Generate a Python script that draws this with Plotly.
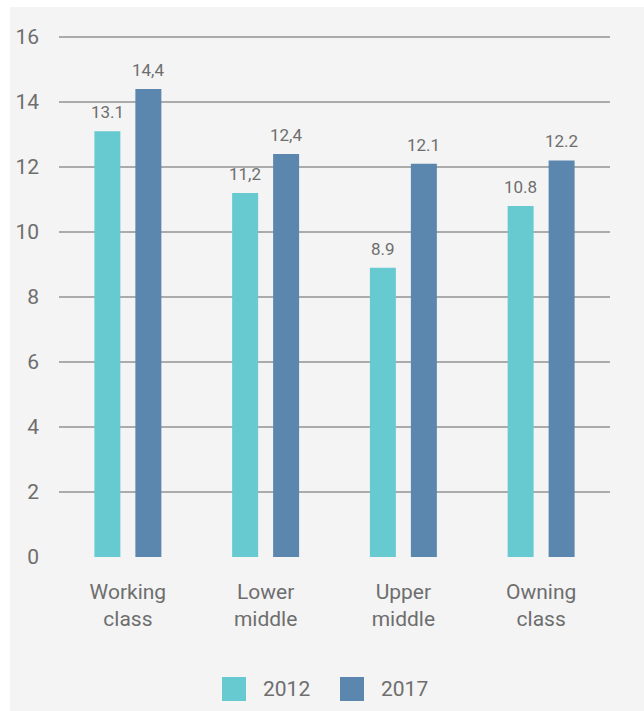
import plotly.graph_objects as go

# Categories and series
categories = ["Working<br>class", "Lower<br>middle", "Upper<br>middle", "Owning<br>class"]
series_names = ["2012", "2017"]
values_2012 = [13.1, 11.2, 8.9, 10.8]
values_2017 = [14.4, 12.4, 12.1, 12.2]
labels_2012 = ["13.1", "11,2", "8.9", "10.8"]
labels_2017 = ["14,4", "12,4", "12.1", "12.2"]
y_ticks = [0, 2, 4, 6, 8, 10, 12, 14, 16]

COLORS = ["#67cad1", "#5b86ad"]
TEXT = "#6e6e6e"
GRID = "#ababab"
PANEL = "#f4f4f4"
FONT = "Roboto, sans-serif"

W, H = 644, 711
Y_TOP = 16.06  # a little headroom so the top gridline is drawn
ML, MR, MB = 59, 34, 154
MT = 37 - round((Y_TOP - 16) * 32.5)
PW, PH = W - ML - MR, H - MT - MB


def px_x(px):
    return (px - ML) / PW


def px_y(py):
    return (H - MB - py) / PH


fig = go.Figure()
series = [(values_2012, labels_2012), (values_2017, labels_2017)]
for i, (vals, labs) in enumerate(series):
    fig.add_trace(go.Bar(
        x=categories, y=vals, name=series_names[i],
        marker=dict(color=COLORS[i], line=dict(width=0)),
        showlegend=False, hoverinfo="skip",
    ))

# value labels above the bars
slot = PW / len(categories) * (1 - 0.405) / 2
annotations = []
for i, (vals, labs) in enumerate(series):
    shift = (i - 0.5) * slot
    for c, v, t in zip(categories, vals, labs):
        annotations.append(dict(
            x=c, y=v, xref="x", yref="y", text=t, showarrow=False,
            xanchor="center", yanchor="bottom", xshift=shift, yshift=7,
            font=dict(family=FONT, size=17, color=TEXT),
        ))

# background panel and legend drawn as squares plus text
shapes = [dict(
    type="rect", xref="paper", yref="paper", layer="below",
    x0=px_x(10), x1=px_x(660), y0=px_y(730), y1=px_y(7),
    fillcolor=PANEL, line=dict(width=0),
)]
legend_x = [222, 340]
for i, name in enumerate(series_names):
    x0 = legend_x[i]
    shapes.append(dict(
        type="rect", xref="paper", yref="paper",
        x0=px_x(x0), x1=px_x(x0 + 24), y0=px_y(701), y1=px_y(677),
        fillcolor=COLORS[i], line=dict(width=0),
    ))
    annotations.append(dict(
        x=px_x(x0 + 39), y=px_y(689), xref="paper", yref="paper",
        text=name, showarrow=False, xanchor="left", yanchor="middle",
        font=dict(family=FONT, size=21, color=TEXT),
    ))

fig.update_layout(
    width=W, height=H,
    margin=dict(l=ML, r=MR, t=MT, b=MB, pad=0),
    paper_bgcolor="white",
    plot_bgcolor="rgba(0,0,0,0)",
    barmode="group", bargap=0.405, bargroupgap=0.366,
    font=dict(family=FONT, color=TEXT),
    shapes=shapes, annotations=annotations,
    showlegend=False,
    xaxis=dict(
        showgrid=False, showline=False, zeroline=False, ticks="",
        tickfont=dict(family=FONT, size=21, color=TEXT),
        ticklabelstandoff=20,
    ),
    yaxis=dict(
        range=[0, Y_TOP], tickvals=y_ticks, showgrid=True,
        gridcolor=GRID, gridwidth=1.5, zeroline=False, showline=False,
        ticks="", tickfont=dict(family=FONT, size=21, color=TEXT),
        ticklabelstandoff=19,
    ),
)

fig.write_html("out.html")
